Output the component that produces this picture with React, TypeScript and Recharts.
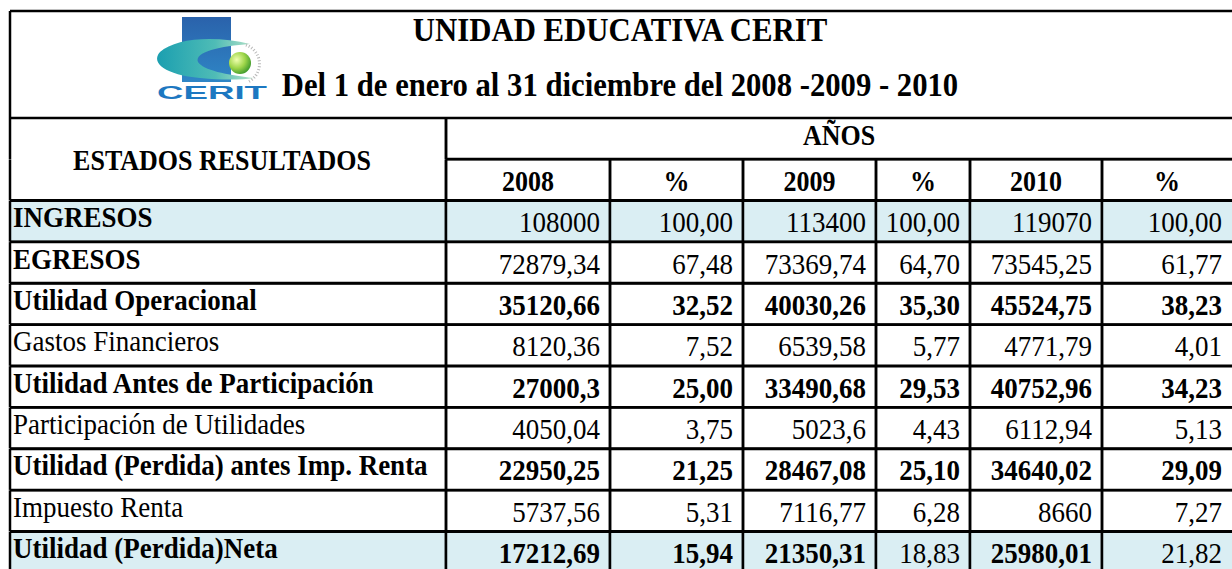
import { BarChart, Bar, XAxis, YAxis, Customized } from "recharts";

// ---- data (read from the statement) ----
const rowLabels = [
  "INGRESOS",
  "EGRESOS",
  "Utilidad Operacional",
  "Gastos Financieros",
  "Utilidad Antes de Participación",
  "Participación de Utilidades",
  "Utilidad (Perdida) antes Imp. Renta",
  "Impuesto Renta",
  "Utilidad (Perdida)Neta",
];
const columnHeaders = ["2008", "%", "2009", "%", "2010", "%"];
const amounts2008 = [108000, 72879.34, 35120.66, 8120.36, 27000.3, 4050.04, 22950.25, 5737.56, 17212.69];
const pct2008 = [100, 67.48, 32.52, 7.52, 25, 3.75, 21.25, 5.31, 15.94];
const amounts2009 = [113400, 73369.74, 40030.26, 6539.58, 33490.68, 5023.6, 28467.08, 7116.77, 21350.31];
const pct2009 = [100, 64.7, 35.3, 5.77, 29.53, 4.43, 25.1, 6.28, 18.83];
const amounts2010 = [119070, 73545.25, 45524.75, 4771.79, 40752.96, 6112.94, 34640.02, 8660, 25980.01];
const pct2010 = [100, 61.77, 38.23, 4.01, 34.23, 5.13, 29.09, 7.27, 21.82];

const TITLE = "UNIDAD EDUCATIVA CERIT";
const SUBTITLE = "Del 1 de enero al 31 diciembre del 2008 -2009 - 2010";
const SIDE_HEADER = "ESTADOS RESULTADOS";
const GROUP_HEADER = "AÑOS";

// ---- layout / style ----
const COL_WIDTHS = [436, 164, 133, 133, 94, 132, 130];
const COL_KEYS = COL_WIDTHS.map((_, i) => `c${i}`);
const TOTAL_W = COL_WIDTHS.reduce((a, b) => a + b, 0);
const FONT = "'Liberation Serif', 'Times New Roman', serif";
const STRETCH = 1.12;
const CELL_FONT = 27;
const LINE = 2.5;
const HIGHLIGHT = "#daeef3";
const HIGHLIGHT_ROWS = [0, 8];
const BOLD_LABEL_ROWS = [0, 1, 2, 4, 6, 8];
const BOLD_VALUE_CELLS: Record<number, number[]> = {
  2: [0, 1, 2, 3, 4, 5],
  4: [0, 1, 2, 3, 4, 5],
  6: [0, 1, 2, 3, 4, 5],
  8: [0, 1, 2, 4],
};

const fmtAmount = (v: number) => String(v).replace(".", ",");
const fmtPct = (v: number) => v.toFixed(2).replace(".", ",");
const columns = [
  amounts2008.map(fmtAmount),
  pct2008.map(fmtPct),
  amounts2009.map(fmtAmount),
  pct2009.map(fmtPct),
  amounts2010.map(fmtAmount),
  pct2010.map(fmtPct),
];

// every row of the table is one band; every column a stacked segment
const tableRows: any[] = [
  { key: "h0", kind: "h0", c0: COL_WIDTHS[0], c1: TOTAL_W - COL_WIDTHS[0], c2: 0, c3: 0, c4: 0, c5: 0, c6: 0 },
  { key: "h1", kind: "h1", ...Object.fromEntries(COL_KEYS.map((k, i) => [k, COL_WIDTHS[i]])) },
  ...rowLabels.map((label, r) => ({
    key: `r${r}`,
    kind: "row",
    row: r,
    label,
    cells: columns.map((col) => col[r]),
    ...Object.fromEntries(COL_KEYS.map((k, i) => [k, COL_WIDTHS[i]])),
  })),
];

function Txt({ x, y, anchor = "start", bold = false, size = CELL_FONT, family = FONT, children }: any) {
  return (
    <text
      transform={`translate(${x},${y}) scale(1,${STRETCH})`}
      textAnchor={anchor}
      fontFamily={family}
      fontSize={size}
      fontWeight={bold ? 700 : 400}
      fill="#000"
    >
      {children}
    </text>
  );
}

function Edges({ x, y, w, h, top = true, bottom = true, left = true, right = true }: any) {
  const s = { stroke: "#000", strokeWidth: LINE };
  return (
    <g>
      {top && <line x1={x} y1={y} x2={x + w} y2={y} {...s} />}
      {bottom && <line x1={x} y1={y + h} x2={x + w} y2={y + h} {...s} />}
      {left && <line x1={x} y1={y} x2={x} y2={y + h} {...s} />}
      {right && <line x1={x + w} y1={y} x2={x + w} y2={y + h} {...s} />}
    </g>
  );
}

const makeShape = (col: number) => (props: any) => {
  const { x, y, width, height, payload } = props;
  if (!width || width <= 0) return <g />;
  const cx = x + width / 2;
  const cy = y + height / 2;
  const atEdge = x + width >= 1231;
  if (payload.kind === "h0") {
    if (col === 0) {
      return (
        <g>
          <Edges x={x} y={y} w={width} h={height} bottom={false} />
          <Txt x={cx - 6} y={y + height + 11} anchor="middle" bold size={26}>{SIDE_HEADER}</Txt>
        </g>
      );
    }
    return (
      <g>
        <Edges x={x} y={y} w={width} h={height} right={!atEdge} />
        <Txt x={cx} y={cy + 6} anchor="middle" bold size={26}>{GROUP_HEADER}</Txt>
      </g>
    );
  }
  if (payload.kind === "h1") {
    if (col === 0) return <Edges x={x} y={y} w={width} h={height} top={false} />;
    return (
      <g>
        <Edges x={x} y={y} w={width} h={height} right={!atEdge} />
        <Txt x={cx} y={cy + 11} anchor="middle" bold size={26}>{columnHeaders[col - 1]}</Txt>
      </g>
    );
  }
  const r = payload.row;
  const fill = HIGHLIGHT_ROWS.includes(r);
  return (
    <g>
      {fill && <rect x={x} y={y} width={width} height={height} fill={HIGHLIGHT} />}
      <Edges x={x} y={y} w={width} h={height} right={!atEdge} />
      {col === 0 ? (
        <Txt x={x + 3} y={cy + 6} bold={BOLD_LABEL_ROWS.includes(r)}>{payload.label}</Txt>
      ) : (
        <Txt x={x + width - 10} y={cy + 11} anchor="end" bold={(BOLD_VALUE_CELLS[r] || []).includes(col - 1)}>
          {payload.cells[col - 1]}
        </Txt>
      )}
    </g>
  );
};

function TitleBlock() {
  return (
    <g>
      <defs>
        <linearGradient id="logoBlue" x1="0" y1="0" x2="0" y2="1">
          <stop offset="0%" stopColor="#2a62ab" />
          <stop offset="100%" stopColor="#2f86c6" />
        </linearGradient>
        <linearGradient id="logoTeal" x1="0" y1="0" x2="1" y2="0">
          <stop offset="0%" stopColor="#1b9fb0" />
          <stop offset="60%" stopColor="#4fbcb6" />
          <stop offset="100%" stopColor="#b7e3c8" />
        </linearGradient>
        <radialGradient id="logoBall" cx="0.35" cy="0.35" r="0.7">
          <stop offset="0%" stopColor="#f0ffb0" />
          <stop offset="55%" stopColor="#9fd64a" />
          <stop offset="100%" stopColor="#3f9a2c" />
        </radialGradient>
      </defs>
      <line x1={10} y1={11} x2={1232} y2={11} stroke="#000" strokeWidth={LINE} />
      <line x1={10} y1={11} x2={10} y2={118} stroke="#000" strokeWidth={LINE} />
      {/* logo */}
      <rect x={182} y={17} width={49} height={65} fill="url(#logoBlue)" />
      <path
        d="M 250 44 C 215 35, 175 38, 160 52 C 150 63, 166 75, 200 78 C 222 80, 240 80, 254 78 C 226 75, 203 70, 198 62 C 194 52, 220 46, 250 44 Z"
        fill="url(#logoTeal)"
      />
      <path d="M 246 45 A 20 20 0 0 1 248 82" fill="none" stroke="#b9b9b9" strokeWidth={3} strokeDasharray="1 2" />
      <circle cx={240} cy={63} r={11} fill="url(#logoBall)" />
      <text
        x={157}
        y={99}
        fontFamily="'Liberation Sans', Arial, sans-serif"
        fontWeight={700}
        fontSize={19}
        fill="#1d78c1"
        textLength={110}
        lengthAdjust="spacingAndGlyphs"
      >
        CERIT
      </text>
      <Txt x={620} y={41} anchor="middle" bold size={30.8}>{TITLE}</Txt>
      <Txt x={620} y={96} anchor="middle" bold size={30.7}>{SUBTITLE}</Txt>
    </g>
  );
}

export default function App() {
  return (
    <div style={{ position: "fixed", left: 0, top: 0, width: 1232, height: 569, overflow: "hidden", background: "#fff" }}>
      <BarChart
        width={1232}
        height={573}
        data={tableRows}
        layout="vertical"
        margin={{ top: 118, right: 0, bottom: 0, left: 10 }}
        barCategoryGap={0}
        barGap={0}
      >
        <XAxis type="number" domain={[0, TOTAL_W]} hide />
        <YAxis type="category" dataKey="key" hide />
        {COL_KEYS.map((k, i) => (
          <Bar key={k} dataKey={k} stackId="t" isAnimationActive={false} shape={makeShape(i)} />
        ))}
        <Customized component={TitleBlock} />
      </BarChart>
    </div>
  );
}
